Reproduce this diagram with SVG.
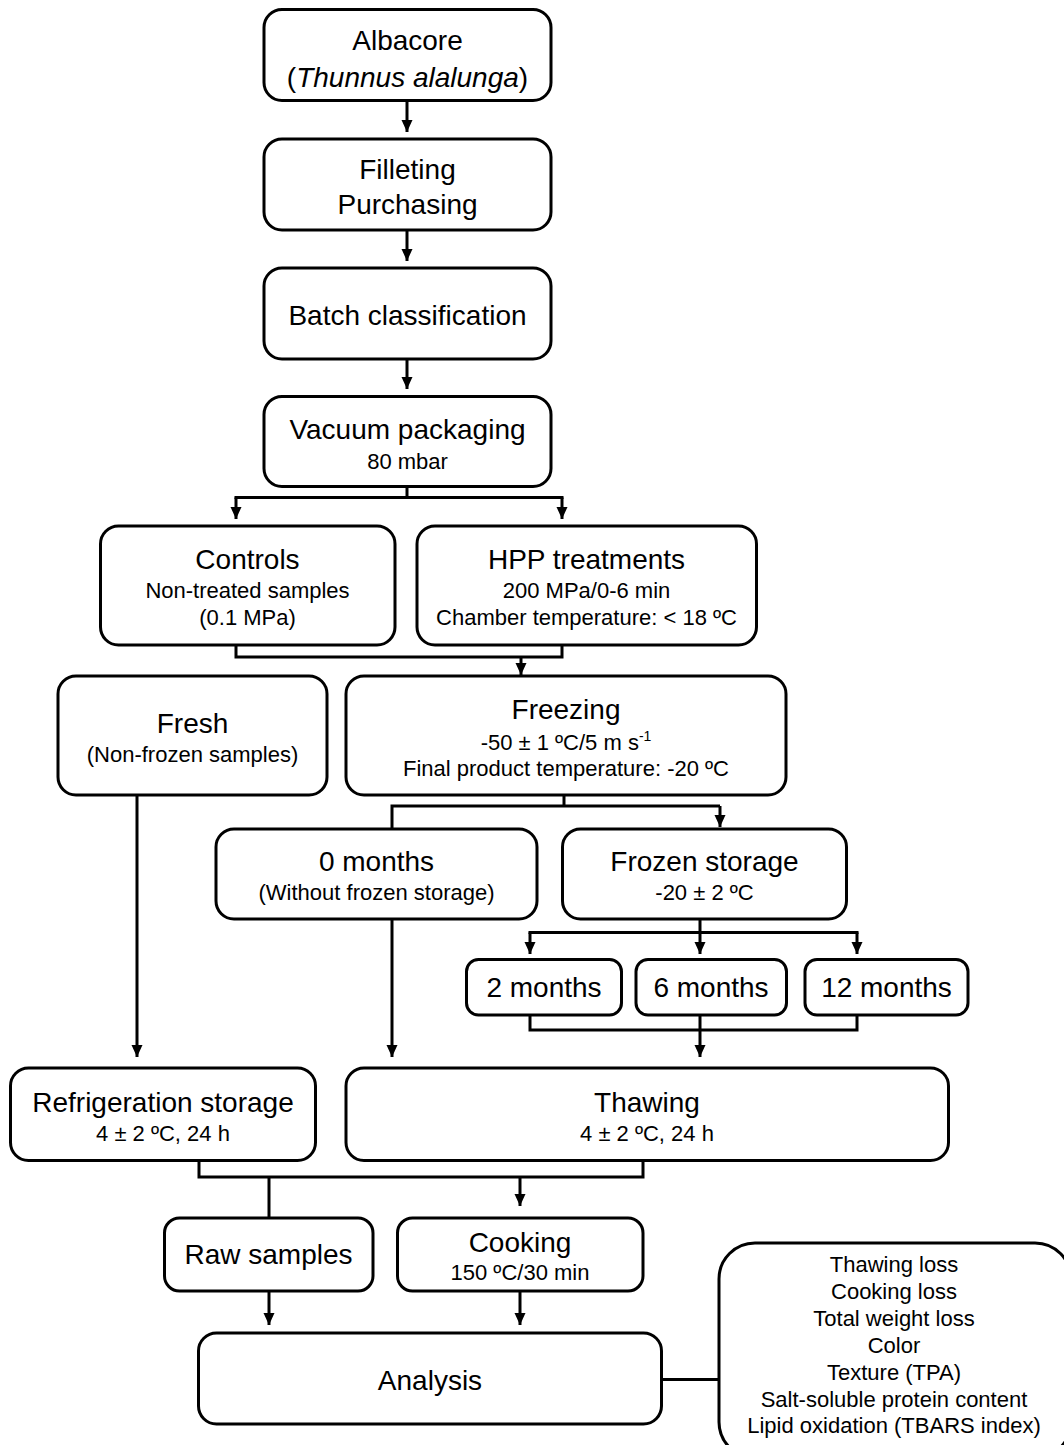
<svg xmlns="http://www.w3.org/2000/svg" width="1064" height="1445" viewBox="0 0 1064 1445">
  <style>
    .box { fill: #ffffff; stroke: #000000; stroke-width: 3; }
    .ln { fill: none; stroke: #000000; stroke-width: 3; }
    .arr { fill: none; stroke: #000000; stroke-width: 3; marker-end: url(#head); }
    text { font-family: "Liberation Sans", Arial, sans-serif; fill: #000000; text-anchor: middle; }
    .big { font-size: 28px; }
    .sm { font-size: 22px; }
  </style>
  <defs>
    <marker id="head" viewBox="0 0 12 11" refX="12" refY="5.5" markerWidth="4" markerHeight="3.67" orient="auto" markerUnits="strokeWidth">
      <path d="M0,0 L12,5.5 L0,11 z" fill="#000000"/>
    </marker>
  </defs>

  <rect width="1064" height="1445" fill="#ffffff"/>

  <!-- connectors -->
  <g id="connectors">
    <line class="arr" x1="407" y1="101" x2="407" y2="132"/>
    <line class="arr" x1="407" y1="230" x2="407" y2="261"/>
    <line class="arr" x1="407" y1="359" x2="407" y2="389"/>
    <!-- vacuum packaging split -->
    <polyline class="ln" points="407,487 407,497.5"/>
    <line class="ln" x1="234.5" y1="497.5" x2="563.5" y2="497.5"/>
    <line class="arr" x1="236" y1="497.5" x2="236" y2="519"/>
    <line class="arr" x1="562" y1="497.5" x2="562" y2="519"/>
    <!-- controls + HPP merge -->
    <polyline class="ln" points="236,645 236,657 562,657 562,645"/>
    <line class="arr" x1="521" y1="657" x2="521" y2="675"/>
    <!-- freezing split -->
    <line class="ln" x1="564" y1="795" x2="564" y2="806"/>
    <polyline class="ln" points="392,829 392,806 720,806"/>
    <line class="arr" x1="720" y1="806" x2="720" y2="827"/>
    <!-- frozen storage split -->
    <line class="ln" x1="700" y1="919" x2="700" y2="932.5"/>
    <line class="ln" x1="528.5" y1="932.5" x2="858.5" y2="932.5"/>
    <line class="arr" x1="530" y1="932.5" x2="530" y2="954"/>
    <line class="arr" x1="700" y1="932.5" x2="700" y2="954"/>
    <line class="arr" x1="857" y1="932.5" x2="857" y2="954"/>
    <!-- months merge -->
    <polyline class="ln" points="530,1015 530,1030 857,1030 857,1015"/>
    <line class="ln" x1="700" y1="1015" x2="700" y2="1030"/>
    <line class="arr" x1="700" y1="1030" x2="700" y2="1057"/>
    <!-- fresh and 0 months down -->
    <line class="arr" x1="137" y1="795" x2="137" y2="1057"/>
    <line class="arr" x1="392" y1="919" x2="392" y2="1057"/>
    <!-- refrigeration + thawing merge -->
    <polyline class="ln" points="199,1161 199,1177 643,1177 643,1161"/>
    <line class="ln" x1="269" y1="1177" x2="269" y2="1218"/>
    <line class="arr" x1="520" y1="1177" x2="520" y2="1206"/>
    <!-- into analysis -->
    <line class="arr" x1="269" y1="1291" x2="269" y2="1325"/>
    <line class="arr" x1="520" y1="1291" x2="520" y2="1325"/>
    <!-- analysis to parameter list -->
    <line class="ln" x1="661" y1="1379.5" x2="719" y2="1379.5"/>
  </g>

  <g id="albacore">
    <rect class="box" x="264" y="9.5" width="287" height="91" rx="18"/>
    <text class="big" x="407.5" y="50">Albacore</text>
    <text class="big" x="407.5" y="87">(<tspan font-style="italic">Thunnus alalunga</tspan>)</text>
  </g>

  <g id="filleting">
    <rect class="box" x="264" y="139" width="287" height="91" rx="18"/>
    <text class="big" x="407.5" y="179">Filleting</text>
    <text class="big" x="407.5" y="214">Purchasing</text>
  </g>

  <g id="batch">
    <rect class="box" x="264" y="268" width="287" height="91" rx="18"/>
    <text class="big" x="407.5" y="325">Batch classification</text>
  </g>

  <g id="vacuum">
    <rect class="box" x="264" y="396.5" width="287" height="90" rx="18"/>
    <text class="big" x="407.5" y="439">Vacuum packaging</text>
    <text class="sm" x="407.5" y="469">80 mbar</text>
  </g>

  <g id="controls">
    <rect class="box" x="100.5" y="526" width="294.5" height="119" rx="18"/>
    <text class="big" x="247.5" y="569">Controls</text>
    <text class="sm" x="247.5" y="598">Non-treated samples</text>
    <text class="sm" x="247.5" y="625">(0.1 MPa)</text>
  </g>

  <g id="hpp">
    <rect class="box" x="417" y="526" width="339.5" height="119" rx="18"/>
    <text class="big" x="586.5" y="569">HPP treatments</text>
    <text class="sm" x="586.5" y="598">200 MPa/0-6 min</text>
    <text class="sm" x="586.5" y="625">Chamber temperature: &lt; 18 ºC</text>
  </g>

  <g id="fresh">
    <rect class="box" x="58" y="676" width="269" height="119" rx="18"/>
    <text class="big" x="192.5" y="733">Fresh</text>
    <text class="sm" x="192.5" y="762">(Non-frozen samples)</text>
  </g>

  <g id="freezing">
    <rect class="box" x="346" y="676" width="440" height="119" rx="18"/>
    <text class="big" x="566" y="719">Freezing</text>
    <text class="sm" x="566" y="750">-50 ± 1 ºC/5 m s<tspan font-size="14" dy="-9">-1</tspan></text>
    <text class="sm" x="566" y="776">Final product temperature: -20 ºC</text>
  </g>

  <g id="zero-months">
    <rect class="box" x="216" y="829" width="321" height="90" rx="18"/>
    <text class="big" x="376.5" y="871">0 months</text>
    <text class="sm" x="376.5" y="900">(Without frozen storage)</text>
  </g>

  <g id="frozen-storage">
    <rect class="box" x="562.5" y="829" width="284" height="90" rx="18"/>
    <text class="big" x="704.5" y="871">Frozen storage</text>
    <text class="sm" x="704.5" y="900">-20 ± 2 ºC</text>
  </g>

  <g id="two-months">
    <rect class="box" x="466.5" y="959.5" width="155" height="55.5" rx="12"/>
    <text class="big" x="544" y="997">2 months</text>
  </g>

  <g id="six-months">
    <rect class="box" x="636" y="959.5" width="150.5" height="55.5" rx="12"/>
    <text class="big" x="711" y="997">6 months</text>
  </g>

  <g id="twelve-months">
    <rect class="box" x="805" y="959.5" width="163" height="55.5" rx="12"/>
    <text class="big" x="886.5" y="997">12 months</text>
  </g>

  <g id="refrigeration">
    <rect class="box" x="10.5" y="1068" width="305" height="92.5" rx="18"/>
    <text class="big" x="163" y="1112">Refrigeration storage</text>
    <text class="sm" x="163" y="1141">4 ± 2 ºC, 24 h</text>
  </g>

  <g id="thawing">
    <rect class="box" x="346" y="1068" width="602.5" height="92.5" rx="18"/>
    <text class="big" x="647" y="1112">Thawing</text>
    <text class="sm" x="647" y="1141">4 ± 2 ºC, 24 h</text>
  </g>

  <g id="raw">
    <rect class="box" x="164.5" y="1218" width="208.5" height="73" rx="15"/>
    <text class="big" x="268.5" y="1264">Raw samples</text>
  </g>

  <g id="cooking">
    <rect class="box" x="397.5" y="1218" width="245.5" height="73" rx="15"/>
    <text class="big" x="520" y="1252">Cooking</text>
    <text class="sm" x="520" y="1280">150 ºC/30 min</text>
  </g>

  <g id="analysis">
    <rect class="box" x="198.5" y="1333" width="463" height="91" rx="18"/>
    <text class="big" x="430" y="1390">Analysis</text>
  </g>

  <g id="parameters">
    <rect class="box" x="719" y="1243" width="352" height="215" rx="36"/>
    <text class="sm" x="894" y="1272">Thawing loss</text>
    <text class="sm" x="894" y="1299">Cooking loss</text>
    <text class="sm" x="894" y="1326">Total weight loss</text>
    <text class="sm" x="894" y="1353">Color</text>
    <text class="sm" x="894" y="1380">Texture (TPA)</text>
    <text class="sm" x="894" y="1407">Salt-soluble protein content</text>
    <text class="sm" x="894" y="1433">Lipid oxidation (TBARS index)</text>
  </g>
</svg>
